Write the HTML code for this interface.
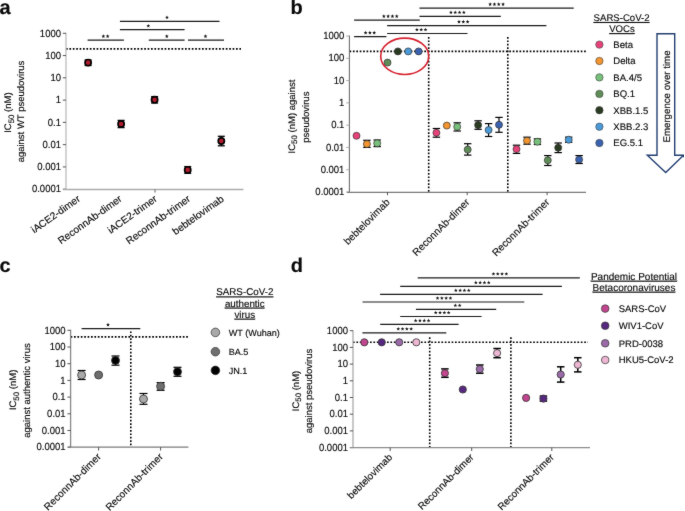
<!DOCTYPE html>
<html><head><meta charset="utf-8"><style>
html,body{margin:0;padding:0;background:#fff;width:685px;height:511px;overflow:hidden}
svg{display:block}
text{font-family:"Liberation Sans",sans-serif;fill:#0a0a0a;stroke:#0a0a0a;stroke-width:0.15px;text-rendering:geometricPrecision}
</style></head><body>
<svg width="685" height="511" viewBox="0 0 685 511">
<defs><filter id="bl" x="0" y="0" width="1" height="1" color-interpolation-filters="sRGB"><feConvolveMatrix order="3" kernelMatrix="0.015 0.055 0.015 0.055 0.72 0.055 0.015 0.055 0.015" edgeMode="duplicate"/></filter></defs>
<rect width="685" height="511" fill="#fff"/>
<g filter="url(#bl)">
<text x="-0.50" y="14.00" font-size="20" text-anchor="start" font-weight="bold" >a</text>
<line x1="119.90" y1="21.30" x2="219.50" y2="21.30" stroke="#1a1a1a" stroke-width="1.2" />
<polygon points="167.00,15.50 167.50,16.81 168.90,16.88 167.81,17.76 168.18,19.12 167.00,18.35 165.82,19.12 166.19,17.76 165.10,16.88 166.50,16.81" fill="#111"/>
<line x1="119.90" y1="29.70" x2="184.60" y2="29.70" stroke="#1a1a1a" stroke-width="1.2" />
<polygon points="148.30,23.90 148.80,25.21 150.20,25.28 149.11,26.16 149.48,27.52 148.30,26.75 147.12,27.52 147.49,26.16 146.40,25.28 147.80,25.21" fill="#111"/>
<line x1="87.60" y1="40.10" x2="123.90" y2="40.10" stroke="#1a1a1a" stroke-width="1.2" />
<polygon points="103.35,34.30 103.85,35.61 105.25,35.68 104.16,36.56 104.53,37.92 103.35,37.15 102.17,37.92 102.54,36.56 101.45,35.68 102.85,35.61" fill="#111"/>
<polygon points="107.65,34.30 108.15,35.61 109.55,35.68 108.46,36.56 108.83,37.92 107.65,37.15 106.47,37.92 106.84,36.56 105.75,35.68 107.15,35.61" fill="#111"/>
<line x1="148.80" y1="40.10" x2="184.60" y2="40.10" stroke="#1a1a1a" stroke-width="1.2" />
<polygon points="166.80,34.30 167.30,35.61 168.70,35.68 167.61,36.56 167.98,37.92 166.80,37.15 165.62,37.92 165.99,36.56 164.90,35.68 166.30,35.61" fill="#111"/>
<line x1="188.00" y1="40.10" x2="224.00" y2="40.10" stroke="#1a1a1a" stroke-width="1.2" />
<polygon points="205.50,34.30 206.00,35.61 207.40,35.68 206.31,36.56 206.68,37.92 205.50,37.15 204.32,37.92 204.69,36.56 203.60,35.68 205.00,35.61" fill="#111"/>
<line x1="66.00" y1="48.90" x2="241.00" y2="48.90" stroke="#000" stroke-width="1.6" stroke-dasharray="1.7 1.7"/>
<line x1="66.00" y1="32.80" x2="66.00" y2="189.20" stroke="#bdbdbd" stroke-width="1.3" />
<line x1="62.80" y1="33.30" x2="66.00" y2="33.30" stroke="#555" stroke-width="1" />
<text x="0" y="0" font-size="9.7" text-anchor="end" transform="translate(61.00 36.50) scale(0.98 1.06)">1000</text>
<line x1="62.80" y1="55.57" x2="66.00" y2="55.57" stroke="#555" stroke-width="1" />
<text x="0" y="0" font-size="9.7" text-anchor="end" transform="translate(61.00 58.77) scale(0.98 1.06)">100</text>
<line x1="62.80" y1="77.84" x2="66.00" y2="77.84" stroke="#555" stroke-width="1" />
<text x="0" y="0" font-size="9.7" text-anchor="end" transform="translate(61.00 81.04) scale(0.98 1.06)">10</text>
<line x1="62.80" y1="100.11" x2="66.00" y2="100.11" stroke="#555" stroke-width="1" />
<text x="0" y="0" font-size="9.7" text-anchor="end" transform="translate(61.00 103.31) scale(0.98 1.06)">1</text>
<line x1="62.80" y1="122.39" x2="66.00" y2="122.39" stroke="#555" stroke-width="1" />
<text x="0" y="0" font-size="9.7" text-anchor="end" transform="translate(61.00 125.59) scale(0.98 1.06)">0.1</text>
<line x1="62.80" y1="144.66" x2="66.00" y2="144.66" stroke="#555" stroke-width="1" />
<text x="0" y="0" font-size="9.7" text-anchor="end" transform="translate(61.00 147.86) scale(0.98 1.06)">0.01</text>
<line x1="62.80" y1="166.93" x2="66.00" y2="166.93" stroke="#555" stroke-width="1" />
<text x="0" y="0" font-size="9.7" text-anchor="end" transform="translate(61.00 170.13) scale(0.98 1.06)">0.001</text>
<line x1="62.80" y1="189.20" x2="66.00" y2="189.20" stroke="#555" stroke-width="1" />
<text x="0" y="0" font-size="9.7" text-anchor="end" transform="translate(61.00 192.40) scale(0.98 1.06)">0.0001</text>
<line x1="63.00" y1="189.50" x2="243.40" y2="189.50" stroke="#ababab" stroke-width="1.3" />
<line x1="155.00" y1="189.50" x2="155.00" y2="192.60" stroke="#666" stroke-width="1" />
<line x1="88.10" y1="60.00" x2="88.10" y2="65.50" stroke="#000" stroke-width="1.3" />
<line x1="84.60" y1="60.00" x2="91.60" y2="60.00" stroke="#000" stroke-width="1.3" />
<line x1="84.60" y1="65.50" x2="91.60" y2="65.50" stroke="#000" stroke-width="1.3" />
<circle cx="88.10" cy="62.60" r="3.1" fill="#b01c2e" stroke="#000" stroke-width="1.65"/>
<line x1="121.10" y1="120.40" x2="121.10" y2="127.60" stroke="#000" stroke-width="1.3" />
<line x1="117.60" y1="120.40" x2="124.60" y2="120.40" stroke="#000" stroke-width="1.3" />
<line x1="117.60" y1="127.60" x2="124.60" y2="127.60" stroke="#000" stroke-width="1.3" />
<circle cx="121.10" cy="124.00" r="3.1" fill="#b01c2e" stroke="#000" stroke-width="1.65"/>
<line x1="154.60" y1="96.60" x2="154.60" y2="103.00" stroke="#000" stroke-width="1.3" />
<line x1="151.10" y1="96.60" x2="158.10" y2="96.60" stroke="#000" stroke-width="1.3" />
<line x1="151.10" y1="103.00" x2="158.10" y2="103.00" stroke="#000" stroke-width="1.3" />
<circle cx="154.60" cy="99.70" r="3.1" fill="#b01c2e" stroke="#000" stroke-width="1.65"/>
<line x1="187.70" y1="166.60" x2="187.70" y2="173.30" stroke="#000" stroke-width="1.3" />
<line x1="184.20" y1="166.60" x2="191.20" y2="166.60" stroke="#000" stroke-width="1.3" />
<line x1="184.20" y1="173.30" x2="191.20" y2="173.30" stroke="#000" stroke-width="1.3" />
<circle cx="187.70" cy="169.90" r="3.1" fill="#b01c2e" stroke="#000" stroke-width="1.65"/>
<line x1="221.30" y1="136.30" x2="221.30" y2="145.80" stroke="#000" stroke-width="1.3" />
<line x1="217.80" y1="136.30" x2="224.80" y2="136.30" stroke="#000" stroke-width="1.3" />
<line x1="217.80" y1="145.80" x2="224.80" y2="145.80" stroke="#000" stroke-width="1.3" />
<circle cx="221.30" cy="141.00" r="3.1" fill="#b01c2e" stroke="#000" stroke-width="1.65"/>
<text x="80.90" y="200.40" font-size="10.1" text-anchor="end" transform="rotate(-35.5 80.90 200.40)">iACE2-dimer</text>
<text x="122.60" y="200.40" font-size="10.1" text-anchor="end" transform="rotate(-35.5 122.60 200.40)">ReconnAb-dimer</text>
<text x="157.80" y="200.40" font-size="10.1" text-anchor="end" transform="rotate(-35.5 157.80 200.40)">iACE2-trimer</text>
<text x="191.10" y="200.40" font-size="10.1" text-anchor="end" transform="rotate(-35.5 191.10 200.40)">ReconnAb-trimer</text>
<text x="224.50" y="200.40" font-size="10.1" text-anchor="end" transform="rotate(-35.5 224.50 200.40)">bebtelovimab</text>
<text x="11.50" y="112.60" font-size="9.5" text-anchor="middle" transform="rotate(-90 11.50 112.60)">IC<tspan font-size="7.9" dy="2.8">50</tspan><tspan dy="-2.8"> (nM)</tspan></text>
<text x="24.20" y="111.50" font-size="9.5" text-anchor="middle" transform="rotate(-90 24.20 111.50)">against WT pseudovirus</text>
<text x="290.50" y="14.00" font-size="20" text-anchor="start" font-weight="bold" >b</text>
<line x1="419.50" y1="8.10" x2="573.70" y2="8.10" stroke="#1a1a1a" stroke-width="1.2" />
<polygon points="490.15,2.30 490.65,3.61 492.05,3.68 490.96,4.56 491.33,5.92 490.15,5.15 488.97,5.92 489.34,4.56 488.25,3.68 489.65,3.61" fill="#111"/>
<polygon points="494.45,2.30 494.95,3.61 496.35,3.68 495.26,4.56 495.63,5.92 494.45,5.15 493.27,5.92 493.64,4.56 492.55,3.68 493.95,3.61" fill="#111"/>
<polygon points="498.75,2.30 499.25,3.61 500.65,3.68 499.56,4.56 499.93,5.92 498.75,5.15 497.57,5.92 497.94,4.56 496.85,3.68 498.25,3.61" fill="#111"/>
<polygon points="503.05,2.30 503.55,3.61 504.95,3.68 503.86,4.56 504.23,5.92 503.05,5.15 501.87,5.92 502.24,4.56 501.15,3.68 502.55,3.61" fill="#111"/>
<line x1="419.50" y1="16.30" x2="500.80" y2="16.30" stroke="#1a1a1a" stroke-width="1.2" />
<polygon points="450.95,10.50 451.45,11.81 452.85,11.88 451.76,12.76 452.13,14.12 450.95,13.35 449.77,14.12 450.14,12.76 449.05,11.88 450.45,11.81" fill="#111"/>
<polygon points="455.25,10.50 455.75,11.81 457.15,11.88 456.06,12.76 456.43,14.12 455.25,13.35 454.07,14.12 454.44,12.76 453.35,11.88 454.75,11.81" fill="#111"/>
<polygon points="459.55,10.50 460.05,11.81 461.45,11.88 460.36,12.76 460.73,14.12 459.55,13.35 458.37,14.12 458.74,12.76 457.65,11.88 459.05,11.81" fill="#111"/>
<polygon points="463.85,10.50 464.35,11.81 465.75,11.88 464.66,12.76 465.03,14.12 463.85,13.35 462.67,14.12 463.04,12.76 461.95,11.88 463.35,11.81" fill="#111"/>
<line x1="354.10" y1="20.10" x2="419.80" y2="20.10" stroke="#1a1a1a" stroke-width="1.2" />
<polygon points="383.85,14.30 384.35,15.61 385.75,15.68 384.66,16.56 385.03,17.92 383.85,17.15 382.67,17.92 383.04,16.56 381.95,15.68 383.35,15.61" fill="#111"/>
<polygon points="388.15,14.30 388.65,15.61 390.05,15.68 388.96,16.56 389.33,17.92 388.15,17.15 386.97,17.92 387.34,16.56 386.25,15.68 387.65,15.61" fill="#111"/>
<polygon points="392.45,14.30 392.95,15.61 394.35,15.68 393.26,16.56 393.63,17.92 392.45,17.15 391.27,17.92 391.64,16.56 390.55,15.68 391.95,15.61" fill="#111"/>
<polygon points="396.75,14.30 397.25,15.61 398.65,15.68 397.56,16.56 397.93,17.92 396.75,17.15 395.57,17.92 395.94,16.56 394.85,15.68 396.25,15.61" fill="#111"/>
<line x1="387.10" y1="25.60" x2="546.40" y2="25.60" stroke="#1a1a1a" stroke-width="1.2" />
<polygon points="459.00,19.80 459.50,21.11 460.90,21.18 459.81,22.06 460.18,23.42 459.00,22.65 457.82,23.42 458.19,22.06 457.10,21.18 458.50,21.11" fill="#111"/>
<polygon points="463.30,19.80 463.80,21.11 465.20,21.18 464.11,22.06 464.48,23.42 463.30,22.65 462.12,23.42 462.49,22.06 461.40,21.18 462.80,21.11" fill="#111"/>
<polygon points="467.60,19.80 468.10,21.11 469.50,21.18 468.41,22.06 468.78,23.42 467.60,22.65 466.42,23.42 466.79,22.06 465.70,21.18 467.10,21.11" fill="#111"/>
<line x1="387.10" y1="33.50" x2="467.50" y2="33.50" stroke="#1a1a1a" stroke-width="1.2" />
<polygon points="416.90,27.70 417.40,29.01 418.80,29.08 417.71,29.96 418.08,31.32 416.90,30.55 415.72,31.32 416.09,29.96 415.00,29.08 416.40,29.01" fill="#111"/>
<polygon points="421.20,27.70 421.70,29.01 423.10,29.08 422.01,29.96 422.38,31.32 421.20,30.55 420.02,31.32 420.39,29.96 419.30,29.08 420.70,29.01" fill="#111"/>
<polygon points="425.50,27.70 426.00,29.01 427.40,29.08 426.31,29.96 426.68,31.32 425.50,30.55 424.32,31.32 424.69,29.96 423.60,29.08 425.00,29.01" fill="#111"/>
<line x1="354.10" y1="36.60" x2="386.40" y2="36.60" stroke="#1a1a1a" stroke-width="1.2" />
<polygon points="365.60,30.80 366.10,32.11 367.50,32.18 366.41,33.06 366.78,34.42 365.60,33.65 364.42,34.42 364.79,33.06 363.70,32.18 365.10,32.11" fill="#111"/>
<polygon points="369.90,30.80 370.40,32.11 371.80,32.18 370.71,33.06 371.08,34.42 369.90,33.65 368.72,34.42 369.09,33.06 368.00,32.18 369.40,32.11" fill="#111"/>
<polygon points="374.20,30.80 374.70,32.11 376.10,32.18 375.01,33.06 375.38,34.42 374.20,33.65 373.02,34.42 373.39,33.06 372.30,32.18 373.70,32.11" fill="#111"/>
<line x1="349.50" y1="51.40" x2="586.00" y2="51.40" stroke="#000" stroke-width="1.6" stroke-dasharray="1.7 1.7"/>
<line x1="428.70" y1="37.00" x2="428.70" y2="192.00" stroke="#000" stroke-width="1.6" stroke-dasharray="1.7 1.7"/>
<line x1="507.80" y1="37.00" x2="507.80" y2="192.00" stroke="#000" stroke-width="1.6" stroke-dasharray="1.7 1.7"/>
<line x1="349.40" y1="35.50" x2="349.40" y2="192.00" stroke="#6e6e6e" stroke-width="1.1" />
<line x1="346.20" y1="36.00" x2="349.40" y2="36.00" stroke="#aaa" stroke-width="1" />
<text x="0" y="0" font-size="9.7" text-anchor="end" transform="translate(344.40 39.20) scale(0.98 1.06)">1000</text>
<line x1="346.20" y1="58.29" x2="349.40" y2="58.29" stroke="#aaa" stroke-width="1" />
<text x="0" y="0" font-size="9.7" text-anchor="end" transform="translate(344.40 61.49) scale(0.98 1.06)">100</text>
<line x1="346.20" y1="80.57" x2="349.40" y2="80.57" stroke="#aaa" stroke-width="1" />
<text x="0" y="0" font-size="9.7" text-anchor="end" transform="translate(344.40 83.77) scale(0.98 1.06)">10</text>
<line x1="346.20" y1="102.86" x2="349.40" y2="102.86" stroke="#aaa" stroke-width="1" />
<text x="0" y="0" font-size="9.7" text-anchor="end" transform="translate(344.40 106.06) scale(0.98 1.06)">1</text>
<line x1="346.20" y1="125.14" x2="349.40" y2="125.14" stroke="#aaa" stroke-width="1" />
<text x="0" y="0" font-size="9.7" text-anchor="end" transform="translate(344.40 128.34) scale(0.98 1.06)">0.1</text>
<line x1="346.20" y1="147.43" x2="349.40" y2="147.43" stroke="#aaa" stroke-width="1" />
<text x="0" y="0" font-size="9.7" text-anchor="end" transform="translate(344.40 150.63) scale(0.98 1.06)">0.01</text>
<line x1="346.20" y1="169.71" x2="349.40" y2="169.71" stroke="#aaa" stroke-width="1" />
<text x="0" y="0" font-size="9.7" text-anchor="end" transform="translate(344.40 172.91) scale(0.98 1.06)">0.001</text>
<line x1="346.20" y1="192.00" x2="349.40" y2="192.00" stroke="#aaa" stroke-width="1" />
<text x="0" y="0" font-size="9.7" text-anchor="end" transform="translate(344.40 195.20) scale(0.98 1.06)">0.0001</text>
<line x1="347.00" y1="192.30" x2="586.00" y2="192.30" stroke="#7a7a7a" stroke-width="1.2" />
<line x1="387.50" y1="192.00" x2="387.50" y2="195.20" stroke="#555" stroke-width="1" />
<line x1="467.20" y1="192.00" x2="467.20" y2="195.20" stroke="#555" stroke-width="1" />
<line x1="547.10" y1="192.00" x2="547.10" y2="195.20" stroke="#555" stroke-width="1" />
<circle cx="356.50" cy="135.80" r="3.5" fill="#e6427a" stroke="#333" stroke-width="0.7"/>
<line x1="366.90" y1="140.30" x2="366.90" y2="147.40" stroke="#000" stroke-width="1.2" />
<line x1="363.20" y1="140.30" x2="370.60" y2="140.30" stroke="#000" stroke-width="1.2" />
<line x1="363.20" y1="147.40" x2="370.60" y2="147.40" stroke="#000" stroke-width="1.2" />
<circle cx="366.90" cy="144.00" r="3.5" fill="#f39530" stroke="#333" stroke-width="0.7"/>
<line x1="377.20" y1="140.00" x2="377.20" y2="146.60" stroke="#000" stroke-width="1.2" />
<line x1="373.50" y1="140.00" x2="380.90" y2="140.00" stroke="#000" stroke-width="1.2" />
<line x1="373.50" y1="146.60" x2="380.90" y2="146.60" stroke="#000" stroke-width="1.2" />
<circle cx="377.20" cy="143.30" r="3.5" fill="#78c07b" stroke="#333" stroke-width="0.7"/>
<circle cx="387.50" cy="62.60" r="3.5" fill="#5f8d58" stroke="#333" stroke-width="0.7"/>
<circle cx="397.90" cy="51.40" r="3.5" fill="#2a3b22" stroke="#333" stroke-width="0.7"/>
<circle cx="408.20" cy="51.40" r="3.5" fill="#4a9ad8" stroke="#333" stroke-width="0.7"/>
<circle cx="418.60" cy="51.40" r="3.5" fill="#3a62b0" stroke="#333" stroke-width="0.7"/>
<line x1="436.40" y1="128.50" x2="436.40" y2="137.20" stroke="#000" stroke-width="1.2" />
<line x1="432.70" y1="128.50" x2="440.10" y2="128.50" stroke="#000" stroke-width="1.2" />
<line x1="432.70" y1="137.20" x2="440.10" y2="137.20" stroke="#000" stroke-width="1.2" />
<circle cx="436.40" cy="132.80" r="3.5" fill="#e6427a" stroke="#333" stroke-width="0.7"/>
<circle cx="446.80" cy="125.60" r="3.5" fill="#f39530" stroke="#333" stroke-width="0.7"/>
<line x1="457.20" y1="122.80" x2="457.20" y2="131.00" stroke="#000" stroke-width="1.2" />
<line x1="453.50" y1="122.80" x2="460.90" y2="122.80" stroke="#000" stroke-width="1.2" />
<line x1="453.50" y1="131.00" x2="460.90" y2="131.00" stroke="#000" stroke-width="1.2" />
<circle cx="457.20" cy="126.80" r="3.5" fill="#78c07b" stroke="#333" stroke-width="0.7"/>
<line x1="467.70" y1="143.70" x2="467.70" y2="155.10" stroke="#000" stroke-width="1.2" />
<line x1="464.00" y1="143.70" x2="471.40" y2="143.70" stroke="#000" stroke-width="1.2" />
<line x1="464.00" y1="155.10" x2="471.40" y2="155.10" stroke="#000" stroke-width="1.2" />
<circle cx="467.70" cy="149.60" r="3.5" fill="#5f8d58" stroke="#333" stroke-width="0.7"/>
<line x1="478.10" y1="120.80" x2="478.10" y2="129.30" stroke="#000" stroke-width="1.2" />
<line x1="474.40" y1="120.80" x2="481.80" y2="120.80" stroke="#000" stroke-width="1.2" />
<line x1="474.40" y1="129.30" x2="481.80" y2="129.30" stroke="#000" stroke-width="1.2" />
<circle cx="478.10" cy="125.10" r="3.5" fill="#2a3b22" stroke="#333" stroke-width="0.7"/>
<line x1="488.60" y1="123.60" x2="488.60" y2="136.50" stroke="#000" stroke-width="1.2" />
<line x1="484.90" y1="123.60" x2="492.30" y2="123.60" stroke="#000" stroke-width="1.2" />
<line x1="484.90" y1="136.50" x2="492.30" y2="136.50" stroke="#000" stroke-width="1.2" />
<circle cx="488.60" cy="130.00" r="3.5" fill="#4a9ad8" stroke="#333" stroke-width="0.7"/>
<line x1="499.00" y1="117.40" x2="499.00" y2="132.30" stroke="#000" stroke-width="1.2" />
<line x1="495.30" y1="117.40" x2="502.70" y2="117.40" stroke="#000" stroke-width="1.2" />
<line x1="495.30" y1="132.30" x2="502.70" y2="132.30" stroke="#000" stroke-width="1.2" />
<circle cx="499.00" cy="124.80" r="3.5" fill="#3a62b0" stroke="#333" stroke-width="0.7"/>
<line x1="516.50" y1="145.20" x2="516.50" y2="153.40" stroke="#000" stroke-width="1.2" />
<line x1="512.80" y1="145.20" x2="520.20" y2="145.20" stroke="#000" stroke-width="1.2" />
<line x1="512.80" y1="153.40" x2="520.20" y2="153.40" stroke="#000" stroke-width="1.2" />
<circle cx="516.50" cy="149.10" r="3.5" fill="#e6427a" stroke="#333" stroke-width="0.7"/>
<line x1="527.00" y1="137.20" x2="527.00" y2="144.20" stroke="#000" stroke-width="1.2" />
<line x1="523.30" y1="137.20" x2="530.70" y2="137.20" stroke="#000" stroke-width="1.2" />
<line x1="523.30" y1="144.20" x2="530.70" y2="144.20" stroke="#000" stroke-width="1.2" />
<circle cx="527.00" cy="140.70" r="3.5" fill="#f39530" stroke="#333" stroke-width="0.7"/>
<line x1="537.40" y1="138.90" x2="537.40" y2="144.50" stroke="#000" stroke-width="1.2" />
<line x1="533.70" y1="138.90" x2="541.10" y2="138.90" stroke="#000" stroke-width="1.2" />
<line x1="533.70" y1="144.50" x2="541.10" y2="144.50" stroke="#000" stroke-width="1.2" />
<circle cx="537.40" cy="141.70" r="3.5" fill="#78c07b" stroke="#333" stroke-width="0.7"/>
<line x1="547.80" y1="155.60" x2="547.80" y2="165.50" stroke="#000" stroke-width="1.2" />
<line x1="544.10" y1="155.60" x2="551.50" y2="155.60" stroke="#000" stroke-width="1.2" />
<line x1="544.10" y1="165.50" x2="551.50" y2="165.50" stroke="#000" stroke-width="1.2" />
<circle cx="547.80" cy="160.30" r="3.5" fill="#5f8d58" stroke="#333" stroke-width="0.7"/>
<line x1="558.20" y1="143.00" x2="558.20" y2="152.60" stroke="#000" stroke-width="1.2" />
<line x1="554.50" y1="143.00" x2="561.90" y2="143.00" stroke="#000" stroke-width="1.2" />
<line x1="554.50" y1="152.60" x2="561.90" y2="152.60" stroke="#000" stroke-width="1.2" />
<circle cx="558.20" cy="147.70" r="3.5" fill="#2a3b22" stroke="#333" stroke-width="0.7"/>
<line x1="568.70" y1="137.20" x2="568.70" y2="142.30" stroke="#000" stroke-width="1.2" />
<line x1="565.00" y1="137.20" x2="572.40" y2="137.20" stroke="#000" stroke-width="1.2" />
<line x1="565.00" y1="142.30" x2="572.40" y2="142.30" stroke="#000" stroke-width="1.2" />
<circle cx="568.70" cy="139.70" r="3.5" fill="#4a9ad8" stroke="#333" stroke-width="0.7"/>
<line x1="579.10" y1="155.60" x2="579.10" y2="163.50" stroke="#000" stroke-width="1.2" />
<line x1="575.40" y1="155.60" x2="582.80" y2="155.60" stroke="#000" stroke-width="1.2" />
<line x1="575.40" y1="163.50" x2="582.80" y2="163.50" stroke="#000" stroke-width="1.2" />
<circle cx="579.10" cy="159.60" r="3.5" fill="#3a62b0" stroke="#333" stroke-width="0.7"/>
<ellipse cx="404.7" cy="56.3" rx="24" ry="18.2" fill="none" stroke="#d62230" stroke-width="1.6"/>
<text x="390.50" y="202.90" font-size="10.1" text-anchor="end" transform="rotate(-45 390.50 202.90)">bebtelovimab</text>
<text x="470.20" y="202.90" font-size="10.1" text-anchor="end" transform="rotate(-45 470.20 202.90)">ReconnAb-dimer</text>
<text x="550.10" y="202.90" font-size="10.1" text-anchor="end" transform="rotate(-45 550.10 202.90)">ReconnAb-trimer</text>
<text x="294.50" y="116.50" font-size="9.5" text-anchor="middle" transform="rotate(-90 294.50 116.50)">IC<tspan font-size="7.9" dy="2.8">50</tspan><tspan dy="-2.8"> (nM)</tspan> against</text>
<text x="309.00" y="117.20" font-size="9.5" text-anchor="middle" transform="rotate(-90 309.00 117.20)">pseudovirus</text>
<text x="621.60" y="21.00" font-size="9.6" text-anchor="middle" ><tspan text-decoration="underline">SARS-CoV-2</tspan></text>
<text x="622.00" y="32.10" font-size="9.6" text-anchor="middle" ><tspan text-decoration="underline">VOCs</tspan></text>
<circle cx="599.4" cy="44.6" r="3.7" fill="#e6427a" stroke="#444" stroke-width="0.6"/>
<text x="613.30" y="47.90" font-size="9.55" text-anchor="start" >Beta</text>
<circle cx="599.4" cy="61" r="3.7" fill="#f39530" stroke="#444" stroke-width="0.6"/>
<text x="613.30" y="64.30" font-size="9.55" text-anchor="start" >Delta</text>
<circle cx="599.4" cy="77.4" r="3.7" fill="#78c07b" stroke="#444" stroke-width="0.6"/>
<text x="613.30" y="80.70" font-size="9.55" text-anchor="start" >BA.4/5</text>
<circle cx="599.4" cy="93.9" r="3.7" fill="#5f8d58" stroke="#444" stroke-width="0.6"/>
<text x="613.30" y="97.20" font-size="9.55" text-anchor="start" >BQ.1</text>
<circle cx="599.4" cy="110.2" r="3.7" fill="#2a3b22" stroke="#444" stroke-width="0.6"/>
<text x="613.30" y="113.50" font-size="9.55" text-anchor="start" >XBB.1.5</text>
<circle cx="599.4" cy="126.7" r="3.7" fill="#4a9ad8" stroke="#444" stroke-width="0.6"/>
<text x="613.30" y="130.00" font-size="9.55" text-anchor="start" >XBB.2.3</text>
<circle cx="599.4" cy="143" r="3.7" fill="#3a62b0" stroke="#444" stroke-width="0.6"/>
<text x="613.30" y="146.30" font-size="9.55" text-anchor="start" >EG.5.1</text>
<path d="M657.0 33.8 L674.7 33.8 L674.7 155.2 L683.6 155.2 L665.7 172.6 L647.3 155.2 L657.0 155.2 Z" fill="#fff" stroke="#223f70" stroke-width="1.4"/>
<text x="669.70" y="96.50" font-size="9.7" text-anchor="middle" transform="rotate(-90 669.70 96.50)">Emergence over time</text>
<text x="-0.50" y="272.20" font-size="20" text-anchor="start" font-weight="bold" >c</text>
<line x1="81.60" y1="328.60" x2="140.30" y2="328.60" stroke="#1a1a1a" stroke-width="1.2" />
<polygon points="108.00,322.80 108.50,324.11 109.90,324.18 108.81,325.06 109.18,326.42 108.00,325.65 106.82,326.42 107.19,325.06 106.10,324.18 107.50,324.11" fill="#111"/>
<line x1="70.60" y1="336.90" x2="189.50" y2="336.90" stroke="#000" stroke-width="1.6" stroke-dasharray="1.7 1.7"/>
<line x1="130.80" y1="331.40" x2="130.80" y2="447.00" stroke="#000" stroke-width="1.6" stroke-dasharray="1.7 1.7"/>
<line x1="70.60" y1="329.80" x2="70.60" y2="447.20" stroke="#888" stroke-width="1.3" />
<line x1="67.40" y1="330.30" x2="70.60" y2="330.30" stroke="#555" stroke-width="1" />
<text x="0" y="0" font-size="9.7" text-anchor="end" transform="translate(65.60 333.50) scale(0.98 1.06)">1000</text>
<line x1="67.40" y1="347.00" x2="70.60" y2="347.00" stroke="#555" stroke-width="1" />
<text x="0" y="0" font-size="9.7" text-anchor="end" transform="translate(65.60 350.20) scale(0.98 1.06)">100</text>
<line x1="67.40" y1="363.70" x2="70.60" y2="363.70" stroke="#555" stroke-width="1" />
<text x="0" y="0" font-size="9.7" text-anchor="end" transform="translate(65.60 366.90) scale(0.98 1.06)">10</text>
<line x1="67.40" y1="380.40" x2="70.60" y2="380.40" stroke="#555" stroke-width="1" />
<text x="0" y="0" font-size="9.7" text-anchor="end" transform="translate(65.60 383.60) scale(0.98 1.06)">1</text>
<line x1="67.40" y1="397.10" x2="70.60" y2="397.10" stroke="#555" stroke-width="1" />
<text x="0" y="0" font-size="9.7" text-anchor="end" transform="translate(65.60 400.30) scale(0.98 1.06)">0.1</text>
<line x1="67.40" y1="413.80" x2="70.60" y2="413.80" stroke="#555" stroke-width="1" />
<text x="0" y="0" font-size="9.7" text-anchor="end" transform="translate(65.60 417.00) scale(0.98 1.06)">0.01</text>
<line x1="67.40" y1="430.50" x2="70.60" y2="430.50" stroke="#555" stroke-width="1" />
<text x="0" y="0" font-size="9.7" text-anchor="end" transform="translate(65.60 433.70) scale(0.98 1.06)">0.001</text>
<line x1="67.40" y1="447.20" x2="70.60" y2="447.20" stroke="#555" stroke-width="1" />
<text x="0" y="0" font-size="9.7" text-anchor="end" transform="translate(65.60 450.40) scale(0.98 1.06)">0.0001</text>
<line x1="68.00" y1="447.20" x2="188.40" y2="447.20" stroke="#7a7a7a" stroke-width="1.3" />
<line x1="98.60" y1="447.20" x2="98.60" y2="450.50" stroke="#555" stroke-width="1" />
<line x1="160.60" y1="447.20" x2="160.60" y2="450.50" stroke="#555" stroke-width="1" />
<line x1="81.60" y1="370.50" x2="81.60" y2="379.50" stroke="#000" stroke-width="1.2" />
<line x1="77.60" y1="370.50" x2="85.60" y2="370.50" stroke="#000" stroke-width="1.2" />
<line x1="77.60" y1="379.50" x2="85.60" y2="379.50" stroke="#000" stroke-width="1.2" />
<circle cx="81.60" cy="375.00" r="4.0" fill="#a9a9a9" stroke="#333" stroke-width="0.8"/>
<circle cx="98.60" cy="375.00" r="4.0" fill="#6e6e6e" stroke="#333" stroke-width="0.8"/>
<line x1="115.50" y1="356.00" x2="115.50" y2="365.20" stroke="#000" stroke-width="1.2" />
<line x1="111.50" y1="356.00" x2="119.50" y2="356.00" stroke="#000" stroke-width="1.2" />
<line x1="111.50" y1="365.20" x2="119.50" y2="365.20" stroke="#000" stroke-width="1.2" />
<circle cx="115.50" cy="360.40" r="4.0" fill="#000" stroke="#333" stroke-width="0.8"/>
<line x1="143.50" y1="393.50" x2="143.50" y2="404.30" stroke="#000" stroke-width="1.2" />
<line x1="139.50" y1="393.50" x2="147.50" y2="393.50" stroke="#000" stroke-width="1.2" />
<line x1="139.50" y1="404.30" x2="147.50" y2="404.30" stroke="#000" stroke-width="1.2" />
<circle cx="143.50" cy="399.00" r="4.0" fill="#a9a9a9" stroke="#333" stroke-width="0.8"/>
<line x1="160.60" y1="382.60" x2="160.60" y2="390.30" stroke="#000" stroke-width="1.2" />
<line x1="156.60" y1="382.60" x2="164.60" y2="382.60" stroke="#000" stroke-width="1.2" />
<line x1="156.60" y1="390.30" x2="164.60" y2="390.30" stroke="#000" stroke-width="1.2" />
<circle cx="160.60" cy="386.30" r="4.0" fill="#6e6e6e" stroke="#333" stroke-width="0.8"/>
<line x1="177.50" y1="367.30" x2="177.50" y2="376.30" stroke="#000" stroke-width="1.2" />
<line x1="173.50" y1="367.30" x2="181.50" y2="367.30" stroke="#000" stroke-width="1.2" />
<line x1="173.50" y1="376.30" x2="181.50" y2="376.30" stroke="#000" stroke-width="1.2" />
<circle cx="177.50" cy="371.80" r="4.0" fill="#000" stroke="#333" stroke-width="0.8"/>
<text x="101.60" y="457.40" font-size="10.1" text-anchor="end" transform="rotate(-45 101.60 457.40)">ReconnAb-dimer</text>
<text x="163.60" y="457.40" font-size="10.1" text-anchor="end" transform="rotate(-45 163.60 457.40)">ReconnAb-trimer</text>
<text x="15.90" y="389.90" font-size="9.5" text-anchor="middle" transform="rotate(-90 15.90 389.90)">IC<tspan font-size="7.9" dy="2.8">50</tspan><tspan dy="-2.8"> (nM)</tspan></text>
<text x="30.20" y="390.50" font-size="9.5" text-anchor="middle" transform="rotate(-90 30.20 390.50)">against authentic virus</text>
<text x="244.80" y="295.40" font-size="9.8" text-anchor="middle" ><tspan text-decoration="underline">SARS-CoV-2</tspan></text>
<text x="244.80" y="306.60" font-size="9.8" text-anchor="middle" ><tspan text-decoration="underline">authentic</tspan></text>
<text x="244.80" y="317.70" font-size="9.8" text-anchor="middle" ><tspan text-decoration="underline">virus</tspan></text>
<circle cx="215.4" cy="332.4" r="4.3" fill="#a9a9a9" stroke="#333" stroke-width="0.7"/>
<text x="228.70" y="335.70" font-size="9.1" text-anchor="start" >WT (Wuhan)</text>
<circle cx="215.4" cy="351.7" r="4.3" fill="#6e6e6e" stroke="#333" stroke-width="0.7"/>
<text x="228.70" y="355.00" font-size="9.1" text-anchor="start" >BA.5</text>
<circle cx="215.4" cy="370.4" r="4.3" fill="#000" stroke="#333" stroke-width="0.7"/>
<text x="228.70" y="373.70" font-size="9.1" text-anchor="start" >JN.1</text>
<text x="290.80" y="272.20" font-size="20" text-anchor="start" font-weight="bold" >d</text>
<line x1="417.70" y1="277.80" x2="579.80" y2="277.80" stroke="#1a1a1a" stroke-width="1.2" />
<polygon points="493.45,272.00 493.95,273.31 495.35,273.38 494.26,274.26 494.63,275.62 493.45,274.85 492.27,275.62 492.64,274.26 491.55,273.38 492.95,273.31" fill="#111"/>
<polygon points="497.75,272.00 498.25,273.31 499.65,273.38 498.56,274.26 498.93,275.62 497.75,274.85 496.57,275.62 496.94,274.26 495.85,273.38 497.25,273.31" fill="#111"/>
<polygon points="502.05,272.00 502.55,273.31 503.95,273.38 502.86,274.26 503.23,275.62 502.05,274.85 500.87,275.62 501.24,274.26 500.15,273.38 501.55,273.31" fill="#111"/>
<polygon points="506.35,272.00 506.85,273.31 508.25,273.38 507.16,274.26 507.53,275.62 506.35,274.85 505.17,275.62 505.54,274.26 504.45,273.38 505.85,273.31" fill="#111"/>
<line x1="400.20" y1="286.40" x2="561.90" y2="286.40" stroke="#1a1a1a" stroke-width="1.2" />
<polygon points="475.85,280.60 476.35,281.91 477.75,281.98 476.66,282.86 477.03,284.22 475.85,283.45 474.67,284.22 475.04,282.86 473.95,281.98 475.35,281.91" fill="#111"/>
<polygon points="480.15,280.60 480.65,281.91 482.05,281.98 480.96,282.86 481.33,284.22 480.15,283.45 478.97,284.22 479.34,282.86 478.25,281.98 479.65,281.91" fill="#111"/>
<polygon points="484.45,280.60 484.95,281.91 486.35,281.98 485.26,282.86 485.63,284.22 484.45,283.45 483.27,284.22 483.64,282.86 482.55,281.98 483.95,281.91" fill="#111"/>
<polygon points="488.75,280.60 489.25,281.91 490.65,281.98 489.56,282.86 489.93,284.22 488.75,283.45 487.57,284.22 487.94,282.86 486.85,281.98 488.25,281.91" fill="#111"/>
<line x1="380.10" y1="294.30" x2="542.60" y2="294.30" stroke="#1a1a1a" stroke-width="1.2" />
<polygon points="455.85,288.50 456.35,289.81 457.75,289.88 456.66,290.76 457.03,292.12 455.85,291.35 454.67,292.12 455.04,290.76 453.95,289.88 455.35,289.81" fill="#111"/>
<polygon points="460.15,288.50 460.65,289.81 462.05,289.88 460.96,290.76 461.33,292.12 460.15,291.35 458.97,292.12 459.34,290.76 458.25,289.88 459.65,289.81" fill="#111"/>
<polygon points="464.45,288.50 464.95,289.81 466.35,289.88 465.26,290.76 465.63,292.12 464.45,291.35 463.27,292.12 463.64,290.76 462.55,289.88 463.95,289.81" fill="#111"/>
<polygon points="468.75,288.50 469.25,289.81 470.65,289.88 469.56,290.76 469.93,292.12 468.75,291.35 467.57,292.12 467.94,290.76 466.85,289.88 468.25,289.81" fill="#111"/>
<line x1="362.50" y1="302.00" x2="524.30" y2="302.00" stroke="#1a1a1a" stroke-width="1.2" />
<polygon points="437.55,296.20 438.05,297.51 439.45,297.58 438.36,298.46 438.73,299.82 437.55,299.05 436.37,299.82 436.74,298.46 435.65,297.58 437.05,297.51" fill="#111"/>
<polygon points="441.85,296.20 442.35,297.51 443.75,297.58 442.66,298.46 443.03,299.82 441.85,299.05 440.67,299.82 441.04,298.46 439.95,297.58 441.35,297.51" fill="#111"/>
<polygon points="446.15,296.20 446.65,297.51 448.05,297.58 446.96,298.46 447.33,299.82 446.15,299.05 444.97,299.82 445.34,298.46 444.25,297.58 445.65,297.51" fill="#111"/>
<polygon points="450.45,296.20 450.95,297.51 452.35,297.58 451.26,298.46 451.63,299.82 450.45,299.05 449.27,299.82 449.64,298.46 448.55,297.58 449.95,297.51" fill="#111"/>
<line x1="415.90" y1="309.30" x2="496.20" y2="309.30" stroke="#1a1a1a" stroke-width="1.2" />
<polygon points="455.35,303.50 455.85,304.81 457.25,304.88 456.16,305.76 456.53,307.12 455.35,306.35 454.17,307.12 454.54,305.76 453.45,304.88 454.85,304.81" fill="#111"/>
<polygon points="459.65,303.50 460.15,304.81 461.55,304.88 460.46,305.76 460.83,307.12 459.65,306.35 458.47,307.12 458.84,305.76 457.75,304.88 459.15,304.81" fill="#111"/>
<line x1="400.20" y1="316.50" x2="481.60" y2="316.50" stroke="#1a1a1a" stroke-width="1.2" />
<polygon points="435.75,310.70 436.25,312.01 437.65,312.08 436.56,312.96 436.93,314.32 435.75,313.55 434.57,314.32 434.94,312.96 433.85,312.08 435.25,312.01" fill="#111"/>
<polygon points="440.05,310.70 440.55,312.01 441.95,312.08 440.86,312.96 441.23,314.32 440.05,313.55 438.87,314.32 439.24,312.96 438.15,312.08 439.55,312.01" fill="#111"/>
<polygon points="444.35,310.70 444.85,312.01 446.25,312.08 445.16,312.96 445.53,314.32 444.35,313.55 443.17,314.32 443.54,312.96 442.45,312.08 443.85,312.01" fill="#111"/>
<polygon points="448.65,310.70 449.15,312.01 450.55,312.08 449.46,312.96 449.83,314.32 448.65,313.55 447.47,314.32 447.84,312.96 446.75,312.08 448.15,312.01" fill="#111"/>
<line x1="380.20" y1="324.40" x2="458.60" y2="324.40" stroke="#1a1a1a" stroke-width="1.2" />
<polygon points="415.65,318.60 416.15,319.91 417.55,319.98 416.46,320.86 416.83,322.22 415.65,321.45 414.47,322.22 414.84,320.86 413.75,319.98 415.15,319.91" fill="#111"/>
<polygon points="419.95,318.60 420.45,319.91 421.85,319.98 420.76,320.86 421.13,322.22 419.95,321.45 418.77,322.22 419.14,320.86 418.05,319.98 419.45,319.91" fill="#111"/>
<polygon points="424.25,318.60 424.75,319.91 426.15,319.98 425.06,320.86 425.43,322.22 424.25,321.45 423.07,322.22 423.44,320.86 422.35,319.98 423.75,319.91" fill="#111"/>
<polygon points="428.55,318.60 429.05,319.91 430.45,319.98 429.36,320.86 429.73,322.22 428.55,321.45 427.37,322.22 427.74,320.86 426.65,319.98 428.05,319.91" fill="#111"/>
<line x1="362.40" y1="332.80" x2="446.30" y2="332.80" stroke="#1a1a1a" stroke-width="1.2" />
<polygon points="398.25,327.00 398.75,328.31 400.15,328.38 399.06,329.26 399.43,330.62 398.25,329.85 397.07,330.62 397.44,329.26 396.35,328.38 397.75,328.31" fill="#111"/>
<polygon points="402.55,327.00 403.05,328.31 404.45,328.38 403.36,329.26 403.73,330.62 402.55,329.85 401.37,330.62 401.74,329.26 400.65,328.38 402.05,328.31" fill="#111"/>
<polygon points="406.85,327.00 407.35,328.31 408.75,328.38 407.66,329.26 408.03,330.62 406.85,329.85 405.67,330.62 406.04,329.26 404.95,328.38 406.35,328.31" fill="#111"/>
<polygon points="411.15,327.00 411.65,328.31 413.05,328.38 411.96,329.26 412.33,330.62 411.15,329.85 409.97,330.62 410.34,329.26 409.25,328.38 410.65,328.31" fill="#111"/>
<line x1="353.00" y1="342.30" x2="588.00" y2="342.30" stroke="#000" stroke-width="1.6" stroke-dasharray="1.7 1.7"/>
<line x1="429.70" y1="337.20" x2="429.70" y2="448.00" stroke="#000" stroke-width="1.6" stroke-dasharray="1.7 1.7"/>
<line x1="510.90" y1="337.20" x2="510.90" y2="448.00" stroke="#000" stroke-width="1.6" stroke-dasharray="1.7 1.7"/>
<line x1="353.00" y1="330.20" x2="353.00" y2="447.60" stroke="#aaa" stroke-width="1.3" />
<line x1="349.80" y1="330.70" x2="353.00" y2="330.70" stroke="#555" stroke-width="1" />
<text x="0" y="0" font-size="9.7" text-anchor="end" transform="translate(348.00 333.90) scale(0.98 1.06)">1000</text>
<line x1="349.80" y1="347.40" x2="353.00" y2="347.40" stroke="#555" stroke-width="1" />
<text x="0" y="0" font-size="9.7" text-anchor="end" transform="translate(348.00 350.60) scale(0.98 1.06)">100</text>
<line x1="349.80" y1="364.10" x2="353.00" y2="364.10" stroke="#555" stroke-width="1" />
<text x="0" y="0" font-size="9.7" text-anchor="end" transform="translate(348.00 367.30) scale(0.98 1.06)">10</text>
<line x1="349.80" y1="380.80" x2="353.00" y2="380.80" stroke="#555" stroke-width="1" />
<text x="0" y="0" font-size="9.7" text-anchor="end" transform="translate(348.00 384.00) scale(0.98 1.06)">1</text>
<line x1="349.80" y1="397.50" x2="353.00" y2="397.50" stroke="#555" stroke-width="1" />
<text x="0" y="0" font-size="9.7" text-anchor="end" transform="translate(348.00 400.70) scale(0.98 1.06)">0.1</text>
<line x1="349.80" y1="414.20" x2="353.00" y2="414.20" stroke="#555" stroke-width="1" />
<text x="0" y="0" font-size="9.7" text-anchor="end" transform="translate(348.00 417.40) scale(0.98 1.06)">0.01</text>
<line x1="349.80" y1="430.90" x2="353.00" y2="430.90" stroke="#555" stroke-width="1" />
<text x="0" y="0" font-size="9.7" text-anchor="end" transform="translate(348.00 434.10) scale(0.98 1.06)">0.001</text>
<line x1="349.80" y1="447.60" x2="353.00" y2="447.60" stroke="#555" stroke-width="1" />
<text x="0" y="0" font-size="9.7" text-anchor="end" transform="translate(348.00 450.80) scale(0.98 1.06)">0.0001</text>
<line x1="350.00" y1="447.60" x2="590.00" y2="447.60" stroke="#8c8c8c" stroke-width="1.3" />
<line x1="390.20" y1="447.60" x2="390.20" y2="451.00" stroke="#555" stroke-width="1" />
<line x1="471.70" y1="447.60" x2="471.70" y2="451.00" stroke="#555" stroke-width="1" />
<line x1="551.80" y1="447.60" x2="551.80" y2="451.00" stroke="#555" stroke-width="1" />
<circle cx="364.30" cy="342.30" r="3.6" fill="#c1468f" stroke="#333" stroke-width="0.8"/>
<circle cx="381.70" cy="342.30" r="3.6" fill="#57287f" stroke="#333" stroke-width="0.8"/>
<circle cx="399.20" cy="342.30" r="3.6" fill="#9b6aa9" stroke="#333" stroke-width="0.8"/>
<circle cx="416.30" cy="342.30" r="3.6" fill="#ecb6d2" stroke="#333" stroke-width="0.8"/>
<line x1="444.90" y1="368.90" x2="444.90" y2="377.30" stroke="#000" stroke-width="1.5" />
<line x1="441.15" y1="368.90" x2="448.65" y2="368.90" stroke="#000" stroke-width="1.5" />
<line x1="441.15" y1="377.30" x2="448.65" y2="377.30" stroke="#000" stroke-width="1.5" />
<circle cx="444.90" cy="373.20" r="3.6" fill="#c1468f" stroke="#333" stroke-width="0.8"/>
<circle cx="462.80" cy="389.50" r="3.6" fill="#57287f" stroke="#333" stroke-width="0.8"/>
<line x1="479.80" y1="365.00" x2="479.80" y2="373.20" stroke="#000" stroke-width="1.5" />
<line x1="476.05" y1="365.00" x2="483.55" y2="365.00" stroke="#000" stroke-width="1.5" />
<line x1="476.05" y1="373.20" x2="483.55" y2="373.20" stroke="#000" stroke-width="1.5" />
<circle cx="479.80" cy="369.10" r="3.6" fill="#9b6aa9" stroke="#333" stroke-width="0.8"/>
<line x1="497.10" y1="348.50" x2="497.10" y2="357.70" stroke="#000" stroke-width="1.5" />
<line x1="493.35" y1="348.50" x2="500.85" y2="348.50" stroke="#000" stroke-width="1.5" />
<line x1="493.35" y1="357.70" x2="500.85" y2="357.70" stroke="#000" stroke-width="1.5" />
<circle cx="497.10" cy="353.10" r="3.6" fill="#ecb6d2" stroke="#333" stroke-width="0.8"/>
<circle cx="526.10" cy="397.90" r="3.6" fill="#c1468f" stroke="#333" stroke-width="0.8"/>
<line x1="543.40" y1="396.10" x2="543.40" y2="401.10" stroke="#000" stroke-width="1.5" />
<line x1="539.65" y1="396.10" x2="547.15" y2="396.10" stroke="#000" stroke-width="1.5" />
<line x1="539.65" y1="401.10" x2="547.15" y2="401.10" stroke="#000" stroke-width="1.5" />
<circle cx="543.40" cy="398.60" r="3.6" fill="#57287f" stroke="#333" stroke-width="0.8"/>
<line x1="560.70" y1="366.80" x2="560.70" y2="382.10" stroke="#000" stroke-width="1.5" />
<line x1="556.95" y1="366.80" x2="564.45" y2="366.80" stroke="#000" stroke-width="1.5" />
<line x1="556.95" y1="382.10" x2="564.45" y2="382.10" stroke="#000" stroke-width="1.5" />
<circle cx="560.70" cy="374.50" r="3.6" fill="#9b6aa9" stroke="#333" stroke-width="0.8"/>
<line x1="577.80" y1="357.70" x2="577.80" y2="371.90" stroke="#000" stroke-width="1.5" />
<line x1="574.05" y1="357.70" x2="581.55" y2="357.70" stroke="#000" stroke-width="1.5" />
<line x1="574.05" y1="371.90" x2="581.55" y2="371.90" stroke="#000" stroke-width="1.5" />
<circle cx="577.80" cy="364.80" r="3.6" fill="#ecb6d2" stroke="#333" stroke-width="0.8"/>
<text x="392.90" y="457.90" font-size="9.9" text-anchor="end" transform="rotate(-45 392.90 457.90)">bebtelovimab</text>
<text x="474.40" y="457.90" font-size="9.9" text-anchor="end" transform="rotate(-45 474.40 457.90)">ReconnAb-dimer</text>
<text x="554.50" y="457.90" font-size="9.9" text-anchor="end" transform="rotate(-45 554.50 457.90)">ReconnAb-trimer</text>
<text x="298.50" y="391.00" font-size="9.5" text-anchor="middle" transform="rotate(-90 298.50 391.00)">IC<tspan font-size="7.9" dy="2.8">50</tspan><tspan dy="-2.8"> (nM)</tspan></text>
<text x="312.10" y="391.00" font-size="9.5" text-anchor="middle" transform="rotate(-90 312.10 391.00)">against pseudovirus</text>
<text x="634.00" y="279.70" font-size="10" text-anchor="middle" ><tspan text-decoration="underline">Pandemic Potential</tspan></text>
<text x="634.00" y="290.70" font-size="10" text-anchor="middle" ><tspan text-decoration="underline">Betacoronaviruses</tspan></text>
<circle cx="605.2" cy="308.6" r="3.8" fill="#c1468f" stroke="#333" stroke-width="0.7"/>
<text x="618.70" y="311.90" font-size="9.5" text-anchor="start" >SARS-CoV</text>
<circle cx="605.2" cy="325.7" r="3.8" fill="#57287f" stroke="#333" stroke-width="0.7"/>
<text x="618.70" y="329.00" font-size="9.5" text-anchor="start" >WIV1-CoV</text>
<circle cx="605.2" cy="343.3" r="3.8" fill="#9b6aa9" stroke="#333" stroke-width="0.7"/>
<text x="618.70" y="346.60" font-size="9.5" text-anchor="start" >PRD-0038</text>
<circle cx="605.2" cy="360" r="3.8" fill="#ecb6d2" stroke="#333" stroke-width="0.7"/>
<text x="618.70" y="363.30" font-size="9.5" text-anchor="start" >HKU5-CoV-2</text>
</g>
</svg>
</body></html>
